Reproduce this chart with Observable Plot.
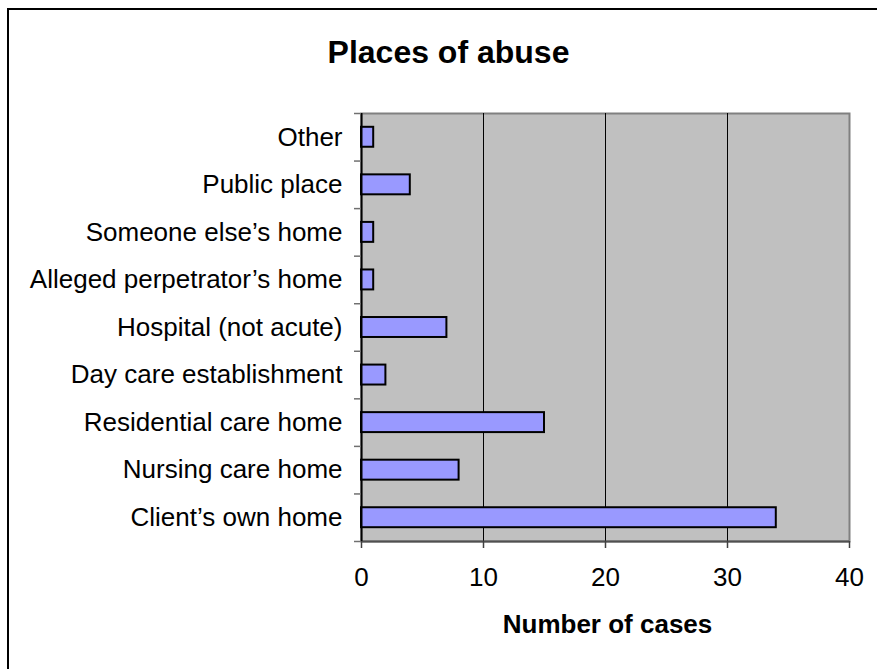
<!DOCTYPE html>
<html>
<head>
<meta charset="utf-8">
<script src="https://cdn.jsdelivr.net/npm/d3@7"></script>
<script src="https://cdn.jsdelivr.net/npm/@observablehq/plot@0.6"></script>
<style>
  body { margin: 0; background: white; font-family: "Liberation Sans", Arial, sans-serif; }
  #wrap { position: relative; width: 877px; height: 669px; overflow: hidden; background: white; }
  #border { position: absolute; left: 7px; top: 8px; width: 900px; height: 700px; border-top: 2px solid black; border-left: 2px solid black; }
  .ttl { position: absolute; white-space: nowrap; font-weight: bold; line-height: 1; color: black; transform: translateX(-50%); }
  #chart { position: absolute; left: 0; top: 0; }
</style>
</head>
<body>
<div id="wrap">
  <div id="border"></div>
  <div id="chart"></div>
  <div class="ttl" id="title" style="left:448.5px; top:36px; font-size:32px;">Places of abuse</div>
  <div class="ttl" id="xtitle" style="left:607.5px; top:610.5px; font-size:26px;">Number of cases</div>
</div>
<script>
// Categories listed from bottom to top
const categories = [
  "Client’s own home",
  "Nursing care home",
  "Residential care home",
  "Day care establishment",
  "Hospital (not acute)",
  "Alleged perpetrator’s home",
  "Someone else’s home",
  "Public place",
  "Other"
];
const cases = [34, 8, 15, 2, 7, 1, 1, 4, 1];
const xTicks = [0, 10, 20, 30, 40];
const gridValues = [10, 20, 30];

const data = categories.map((name, i) => ({name, lo: i, hi: i + 1, zero: 0, value: cases[i]}));
const boundaries = d3.range(categories.length + 1);
const centers = categories.map((_, i) => i + 0.5);

const chart = Plot.plot({
  width: 877,
  height: 669,
  marginLeft: 361,
  marginRight: 28,
  marginTop: 113,
  marginBottom: 128,
  style: {fontFamily: "'Liberation Sans', Arial, sans-serif", fontSize: "26px", background: "transparent", color: "black"},
  x: {type: "linear", domain: [0, 40]},
  y: {type: "linear", domain: [0, categories.length]},
  marks: [
    Plot.frame({fill: "#c0c0c0", stroke: "#808080", strokeWidth: 2}),
    Plot.ruleX(gridValues, {x: d => d, stroke: "black", strokeWidth: 1}),
    Plot.rect(data, {
      x1: "zero",
      x2: "value",
      y1: "lo",
      y2: "hi",
      insetTop: 13.8,
      insetBottom: 13.8,
      fill: "#9999ff",
      stroke: "black",
      strokeWidth: 2
    }),
    Plot.ruleY([0], {y: d => d, stroke: "#505050", strokeWidth: 2}),
    Plot.ruleX([0], {x: d => d, stroke: "black", strokeWidth: 2}),
    Plot.axisX({ticks: xTicks, tickSize: 7, tickPadding: 19, fontSize: 26, stroke: "#404040", strokeWidth: 1.5, label: null}),
    Plot.axisY({ticks: boundaries, tickSize: 7, tickFormat: () => "", stroke: "#707070", strokeWidth: 1.5, label: null}),
    Plot.axisY({ticks: centers, tickSize: 0, tickPadding: 19, fontSize: 26, tickFormat: d => categories[Math.floor(d)], label: null})
  ]
});
document.getElementById("chart").appendChild(chart);
</script>
</body>
</html>
